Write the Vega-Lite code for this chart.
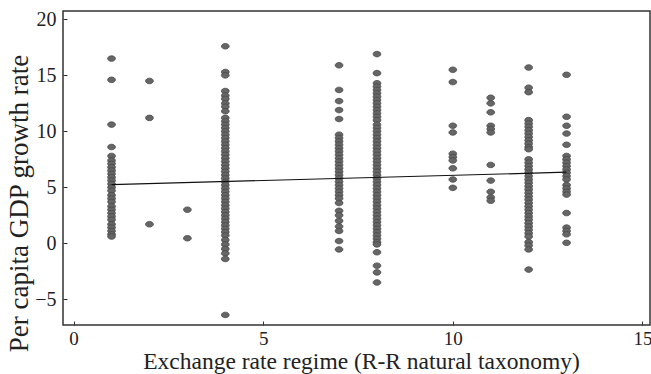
{
  "$schema": "https://vega.github.io/schema/vega-lite/v6.json",
  "width": 587,
  "height": 314,
  "autosize": {"type": "none"},
  "padding": {"left": 63, "top": 11, "right": 1, "bottom": 49},
  "background": "white",
  "config": {
    "view": {"stroke": "#333333", "strokeWidth": 1.5},
    "axis": {
      "grid": false,
      "domain": false,
      "labelFont": "Liberation Serif",
      "labelFontSize": 20,
      "labelColor": "#222222",
      "titleFont": "Liberation Serif",
      "titleFontWeight": "normal",
      "titleColor": "#222222",
      "tickColor": "#333333",
      "tickSize": -4,
      "tickWidth": 1
    }
  },
  "datasets": {
    "pts": [
      {"x": 1, "y": 16.5}, {"x": 1, "y": 14.6}, {"x": 1, "y": 10.6}, {"x": 1, "y": 8.6}, {"x": 1, "y": 7.8}, {"x": 1, "y": 7.4}, {"x": 1, "y": 7.1}, {"x": 1, "y": 6.8}, {"x": 1, "y": 6.5}, {"x": 1, "y": 6.2}, {"x": 1, "y": 5.9}, {"x": 1, "y": 5.6}, {"x": 1, "y": 5.3}, {"x": 1, "y": 5.0}, {"x": 1, "y": 4.7}, {"x": 1, "y": 4.3}, {"x": 1, "y": 4.0}, {"x": 1, "y": 3.7}, {"x": 1, "y": 3.3}, {"x": 1, "y": 3.0}, {"x": 1, "y": 2.7}, {"x": 1, "y": 2.4}, {"x": 1, "y": 2.1}, {"x": 1, "y": 1.7}, {"x": 1, "y": 1.4}, {"x": 1, "y": 1.1}, {"x": 1, "y": 0.8}, {"x": 1, "y": 0.6},
      {"x": 2, "y": 14.5}, {"x": 2, "y": 11.2}, {"x": 2, "y": 1.7},
      {"x": 3, "y": 3.0}, {"x": 3, "y": 0.45},
      {"x": 4, "y": 17.6}, {"x": 4, "y": 15.3}, {"x": 4, "y": 15.0}, {"x": 4, "y": 13.6}, {"x": 4, "y": 13.2}, {"x": 4, "y": 12.9}, {"x": 4, "y": 12.5}, {"x": 4, "y": 12.2}, {"x": 4, "y": 11.8}, {"x": 4, "y": 11.2}, {"x": 4, "y": 10.9}, {"x": 4, "y": 10.6}, {"x": 4, "y": 10.3}, {"x": 4, "y": 10.0}, {"x": 4, "y": 9.7}, {"x": 4, "y": 9.4}, {"x": 4, "y": 9.1}, {"x": 4, "y": 8.8}, {"x": 4, "y": 8.5}, {"x": 4, "y": 8.2}, {"x": 4, "y": 7.9}, {"x": 4, "y": 7.6}, {"x": 4, "y": 7.3}, {"x": 4, "y": 7.0}, {"x": 4, "y": 6.7}, {"x": 4, "y": 6.4}, {"x": 4, "y": 6.1}, {"x": 4, "y": 5.8}, {"x": 4, "y": 5.5}, {"x": 4, "y": 5.2}, {"x": 4, "y": 4.9}, {"x": 4, "y": 4.6}, {"x": 4, "y": 4.3}, {"x": 4, "y": 4.0}, {"x": 4, "y": 3.7}, {"x": 4, "y": 3.4}, {"x": 4, "y": 3.1}, {"x": 4, "y": 2.8}, {"x": 4, "y": 2.5}, {"x": 4, "y": 2.2}, {"x": 4, "y": 1.9}, {"x": 4, "y": 1.6}, {"x": 4, "y": 1.3}, {"x": 4, "y": 1.0}, {"x": 4, "y": 0.7}, {"x": 4, "y": 0.3}, {"x": 4, "y": -0.1}, {"x": 4, "y": -0.5}, {"x": 4, "y": -0.9}, {"x": 4, "y": -1.4}, {"x": 4, "y": -6.4},
      {"x": 7, "y": 15.9}, {"x": 7, "y": 13.7}, {"x": 7, "y": 12.7}, {"x": 7, "y": 11.9}, {"x": 7, "y": 11.1}, {"x": 7, "y": 9.7}, {"x": 7, "y": 9.4}, {"x": 7, "y": 9.1}, {"x": 7, "y": 8.8}, {"x": 7, "y": 8.5}, {"x": 7, "y": 8.2}, {"x": 7, "y": 7.9}, {"x": 7, "y": 7.6}, {"x": 7, "y": 7.3}, {"x": 7, "y": 7.0}, {"x": 7, "y": 6.7}, {"x": 7, "y": 6.4}, {"x": 7, "y": 6.1}, {"x": 7, "y": 5.8}, {"x": 7, "y": 5.5}, {"x": 7, "y": 5.2}, {"x": 7, "y": 4.9}, {"x": 7, "y": 4.6}, {"x": 7, "y": 4.3}, {"x": 7, "y": 4.0}, {"x": 7, "y": 3.6}, {"x": 7, "y": 2.9}, {"x": 7, "y": 2.5}, {"x": 7, "y": 2.0}, {"x": 7, "y": 1.5}, {"x": 7, "y": 1.1}, {"x": 7, "y": 0.2}, {"x": 7, "y": -0.55},
      {"x": 8, "y": 16.9}, {"x": 8, "y": 15.2}, {"x": 8, "y": 14.3}, {"x": 8, "y": 14.0}, {"x": 8, "y": 13.7}, {"x": 8, "y": 13.4}, {"x": 8, "y": 13.1}, {"x": 8, "y": 12.8}, {"x": 8, "y": 12.5}, {"x": 8, "y": 12.2}, {"x": 8, "y": 11.9}, {"x": 8, "y": 11.6}, {"x": 8, "y": 11.3}, {"x": 8, "y": 11.0}, {"x": 8, "y": 10.6}, {"x": 8, "y": 10.3}, {"x": 8, "y": 10.0}, {"x": 8, "y": 9.7}, {"x": 8, "y": 9.4}, {"x": 8, "y": 9.1}, {"x": 8, "y": 8.8}, {"x": 8, "y": 8.5}, {"x": 8, "y": 8.2}, {"x": 8, "y": 7.9}, {"x": 8, "y": 7.6}, {"x": 8, "y": 7.3}, {"x": 8, "y": 7.0}, {"x": 8, "y": 6.7}, {"x": 8, "y": 6.4}, {"x": 8, "y": 6.1}, {"x": 8, "y": 5.8}, {"x": 8, "y": 5.5}, {"x": 8, "y": 5.2}, {"x": 8, "y": 4.9}, {"x": 8, "y": 4.6}, {"x": 8, "y": 4.3}, {"x": 8, "y": 4.0}, {"x": 8, "y": 3.7}, {"x": 8, "y": 3.4}, {"x": 8, "y": 3.1}, {"x": 8, "y": 2.8}, {"x": 8, "y": 2.5}, {"x": 8, "y": 2.2}, {"x": 8, "y": 1.9}, {"x": 8, "y": 1.6}, {"x": 8, "y": 1.3}, {"x": 8, "y": 1.0}, {"x": 8, "y": 0.7}, {"x": 8, "y": 0.4}, {"x": 8, "y": 0.1}, {"x": 8, "y": -0.1}, {"x": 8, "y": -0.8}, {"x": 8, "y": -2.0}, {"x": 8, "y": -2.6}, {"x": 8, "y": -3.5},
      {"x": 10, "y": 15.5}, {"x": 10, "y": 14.4}, {"x": 10, "y": 10.5}, {"x": 10, "y": 9.9}, {"x": 10, "y": 8.0}, {"x": 10, "y": 7.7}, {"x": 10, "y": 7.4}, {"x": 10, "y": 6.7}, {"x": 10, "y": 5.7}, {"x": 10, "y": 4.95},
      {"x": 11, "y": 13.0}, {"x": 11, "y": 12.5}, {"x": 11, "y": 11.7}, {"x": 11, "y": 10.5}, {"x": 11, "y": 10.2}, {"x": 11, "y": 9.9}, {"x": 11, "y": 7.0}, {"x": 11, "y": 5.6}, {"x": 11, "y": 4.6}, {"x": 11, "y": 4.1}, {"x": 11, "y": 3.8},
      {"x": 12, "y": 15.7}, {"x": 12, "y": 13.9}, {"x": 12, "y": 13.5}, {"x": 12, "y": 11.0}, {"x": 12, "y": 10.7}, {"x": 12, "y": 10.4}, {"x": 12, "y": 10.1}, {"x": 12, "y": 9.8}, {"x": 12, "y": 9.5}, {"x": 12, "y": 9.2}, {"x": 12, "y": 8.9}, {"x": 12, "y": 8.6}, {"x": 12, "y": 8.4}, {"x": 12, "y": 7.5}, {"x": 12, "y": 7.2}, {"x": 12, "y": 6.9}, {"x": 12, "y": 6.6}, {"x": 12, "y": 6.3}, {"x": 12, "y": 6.0}, {"x": 12, "y": 5.7}, {"x": 12, "y": 5.4}, {"x": 12, "y": 5.1}, {"x": 12, "y": 4.8}, {"x": 12, "y": 4.5}, {"x": 12, "y": 4.2}, {"x": 12, "y": 3.9}, {"x": 12, "y": 3.6}, {"x": 12, "y": 3.3}, {"x": 12, "y": 3.0}, {"x": 12, "y": 2.7}, {"x": 12, "y": 2.4}, {"x": 12, "y": 2.1}, {"x": 12, "y": 1.8}, {"x": 12, "y": 1.5}, {"x": 12, "y": 1.2}, {"x": 12, "y": 0.9}, {"x": 12, "y": 0.6}, {"x": 12, "y": 0.1}, {"x": 12, "y": -0.2}, {"x": 12, "y": -0.55}, {"x": 12, "y": -2.35},
      {"x": 13, "y": 15.05}, {"x": 13, "y": 11.3}, {"x": 13, "y": 10.5}, {"x": 13, "y": 9.8}, {"x": 13, "y": 8.8}, {"x": 13, "y": 7.8}, {"x": 13, "y": 7.5}, {"x": 13, "y": 7.2}, {"x": 13, "y": 6.9}, {"x": 13, "y": 6.6}, {"x": 13, "y": 6.3}, {"x": 13, "y": 6.0}, {"x": 13, "y": 5.7}, {"x": 13, "y": 5.2}, {"x": 13, "y": 4.9}, {"x": 13, "y": 4.6}, {"x": 13, "y": 4.35}, {"x": 13, "y": 2.7}, {"x": 13, "y": 1.4}, {"x": 13, "y": 1.1}, {"x": 13, "y": 0.8}, {"x": 13, "y": 0.04}
    ],
    "fit": [
      {"x": 1, "y": 5.24},
      {"x": 13, "y": 6.35}
    ]
  },
  "layer": [
    {
      "data": {"name": "pts"},
      "mark": {
        "type": "point",
        "shape": "M-1,0A1,0.72,0,1,1,1,0A1,0.72,0,1,1,-1,0Z",
        "size": 60,
        "filled": true,
        "fill": "#666666",
        "stroke": "#474747",
        "strokeWidth": 0.8,
        "opacity": 1
      },
      "encoding": {
        "x": {
          "field": "x",
          "type": "quantitative",
          "scale": {"domain": [-0.28, 15.2], "nice": false, "zero": false},
          "axis": {
            "values": [0, 5, 10, 15],
            "title": "Exchange rate regime (R-R natural taxonomy)",
            "labelPadding": 8,
            "labelFontSize": 19,
            "titleFontSize": 23.5,
            "titleBaseline": "alphabetic",
            "titleAnchor": "middle",
            "titleX": 298,
            "titleY": 43
          }
        },
        "y": {
          "field": "y",
          "type": "quantitative",
          "scale": {"domain": [-7.3, 20.75], "nice": false, "zero": false},
          "axis": {
            "values": [-5, 0, 5, 10, 15, 20],
            "title": "Per capita GDP growth rate",
            "labelPadding": 11,
            "titleFontSize": 27,
            "titleBaseline": "alphabetic",
            "titleAnchor": "middle",
            "titleX": -36,
            "titleY": 192
          }
        }
      }
    },
    {
      "data": {"name": "fit"},
      "mark": {"type": "line", "color": "#111111", "strokeWidth": 1.2},
      "encoding": {
        "x": {"field": "x", "type": "quantitative"},
        "y": {"field": "y", "type": "quantitative"}
      }
    }
  ]
}
